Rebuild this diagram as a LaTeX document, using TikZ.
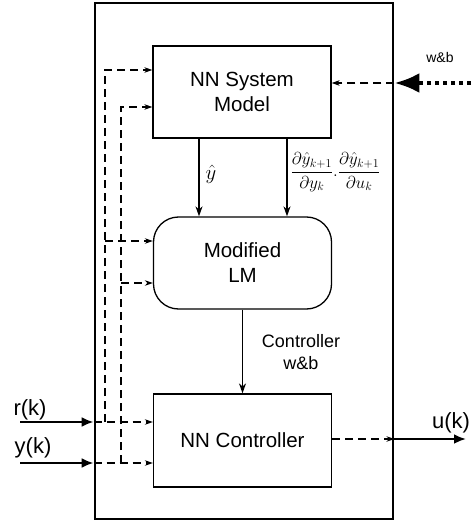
\documentclass[tikz,border=0pt]{standalone}
\usepackage{amsmath}
\usepackage{fontspec}
\setmainfont{Liberation Sans}
\usetikzlibrary{arrows.meta}
\begin{document}
\begin{tikzpicture}[x=1pt,y=-1pt,
 box/.style={draw, line width=1.3pt, minimum width=178pt, minimum height=92pt, align=center, font=\fontsize{20.5}{25}\selectfont, inner sep=0pt},
 solidarrow/.style={line width=1.3pt, -{Stealth[length=10pt,width=7pt]}},
 dasharrow/.style={line width=1.8pt, dash pattern=on 8pt off 5pt, -{Stealth[length=8pt,width=5.5pt]}},
 thickarrow/.style={line width=2.8pt, -{Latex[length=12pt,width=10pt]}},
 lbl/.style={font=\fontsize{22}{26}\selectfont, inner sep=0pt}
]
\useasboundingbox (0,0) rectangle (471,521);
\node[draw, line width=2.8pt, minimum width=298pt, minimum height=516pt, inner sep=0pt] (outer) at (244,261) {};
\node[box] (sys) at (242,92) {NN System\\Model};
\node[box, rounded corners=25pt] (lm) at (242.5,263) {Modified\\LM};
\node[box, minimum height=93pt] (ctrl) at (242.5,440.5) {NN Controller};

% junction coordinates
\coordinate (rj) at (105,422);
\coordinate (rt) at (105,70);
\coordinate (rl) at (105,241);
\coordinate (yj) at (121,463);
\coordinate (yt) at (121,107);
\coordinate (yl) at (121,283);
\coordinate (rin) at (20,422);
\coordinate (yin) at (20,463);
\coordinate (uout) at (466,439);
\coordinate (wb) at (471,83);

% inputs
\draw[thickarrow] (rin) -- (outer.west |- rin);
\draw[thickarrow] (yin) -- (outer.west |- yin);
\draw[dasharrow] (outer.west |- rin) -- (ctrl.west |- rin);
\draw[dasharrow] (outer.west |- yin) -- (ctrl.west |- yin);
\draw[dasharrow] (rj) -- (rt) -- (sys.west |- rt);
\draw[dasharrow] (yj) -- (yt) -- (sys.west |- yt);
\draw[dasharrow] (rl) -- (lm.west |- rl);
\draw[dasharrow] (yl) -- (lm.west |- yl);

% internal
\draw[solidarrow] ([xshift=-43pt]sys.south) -- ([xshift=-43.5pt]lm.north);
\draw[solidarrow] ([xshift=45pt]sys.south) -- ([xshift=44.5pt]lm.north);
\draw[solidarrow] (lm.south) -- (ctrl.north);

% output
\draw[dasharrow] (ctrl.east |- uout) -- (outer.east |- uout);
\draw[thickarrow] (outer.east |- uout) -- (uout);

% w&b input
\draw[line width=4pt, dash pattern=on 4pt off 4pt, -{Latex[length=25pt,width=20pt]}] (wb) -- (outer.east |- wb);
\draw[dasharrow] (outer.east |- wb) -- (sys.east |- wb);

% labels
\node[font=\fontsize{14}{16}\selectfont, anchor=base, inner sep=0pt] (wbl) at (440,63) {w\&b};
\node[lbl, anchor=base] (rk) at (30,415) {r(k)};
\node[lbl, anchor=base] (yk) at (33,453) {y(k)};
\node[lbl, anchor=base] (uk) at (451,428) {u(k)};
\node[font=\fontsize{18}{22}\selectfont, align=center, inner sep=0pt] (cwb) at (301,352) {Controller\\w\&b};
\node[inner sep=0pt] (yhat) at (211,174) {\fontsize{21}{24}\selectfont $\hat{y}$};
\node[inner sep=0pt] (dlabel) at (335.5,172) {\fontsize{17}{20}\selectfont $\dfrac{\partial\hat{y}_{k+1}}{\partial y_k}.\dfrac{\partial\hat{y}_{k+1}}{\partial u_k}$};
\end{tikzpicture}
\end{document}
